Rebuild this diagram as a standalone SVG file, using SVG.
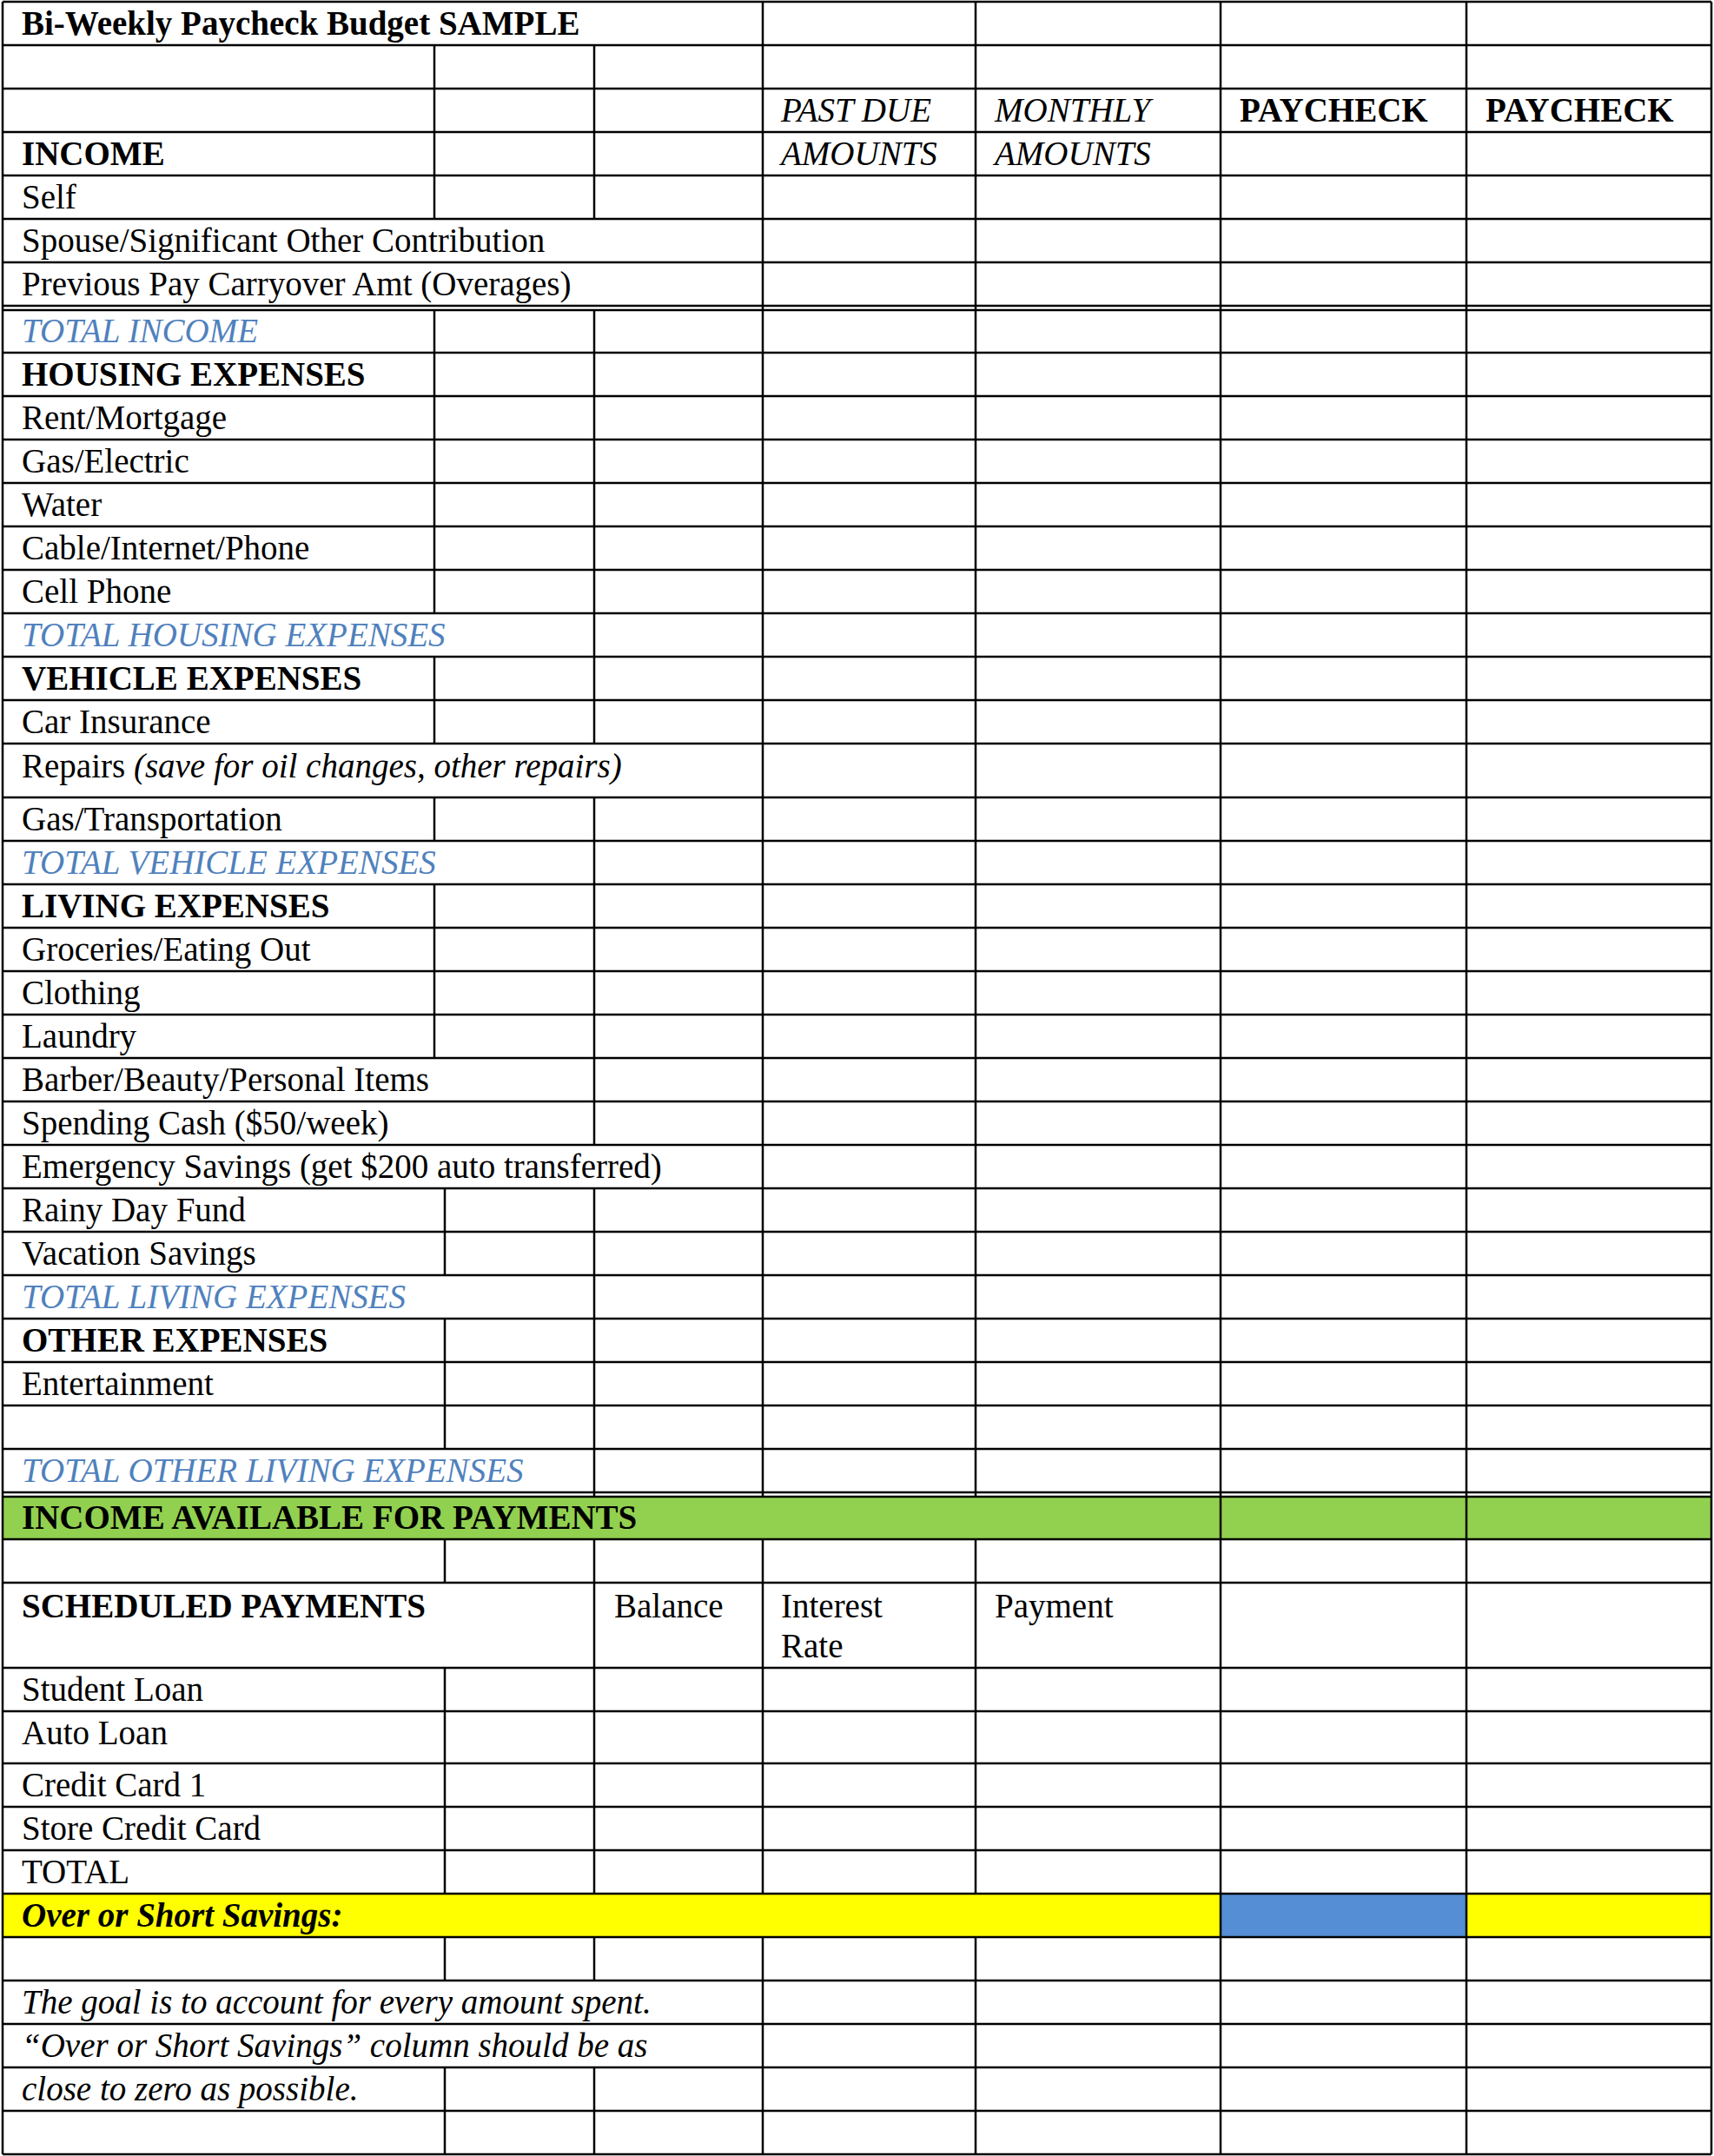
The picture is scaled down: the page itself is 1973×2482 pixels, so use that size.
<svg xmlns="http://www.w3.org/2000/svg" width="1973" height="2482" viewBox="0 0 1973 2482">
<style>
text{font-family:"Liberation Serif","Times New Roman",serif;font-size:39px;fill:#000}
.b{font-weight:bold}.i{font-style:italic}.t{font-style:italic;fill:#4f81bd}
line{stroke:#000;stroke-width:2.5}
</style>
<rect width="1973" height="2482" fill="#fff"/>
<g id="fills">
<rect x="3" y="1722" width="1967" height="50" fill="#92d050"/>
<rect x="3" y="2180" width="1967" height="50" fill="#ffff00"/>
<rect x="1405" y="2180" width="283" height="50" fill="#558ed5"/>
</g>
<g id="connectors">
<g id="h">
<line x1="3" x2="1970" y1="2" y2="2"/><line x1="3" x2="1970" y1="52" y2="52"/><line x1="3" x2="1970" y1="102" y2="102"/><line x1="3" x2="1970" y1="152" y2="152"/><line x1="3" x2="1970" y1="202" y2="202"/><line x1="3" x2="1970" y1="252" y2="252"/><line x1="3" x2="1970" y1="302" y2="302"/><line x1="3" x2="1970" y1="352" y2="352"/><line x1="3" x2="1970" y1="357" y2="357"/>
<line x1="3" x2="1970" y1="406" y2="406"/><line x1="3" x2="1970" y1="456" y2="456"/><line x1="3" x2="1970" y1="506" y2="506"/><line x1="3" x2="1970" y1="556" y2="556"/><line x1="3" x2="1970" y1="606" y2="606"/><line x1="3" x2="1970" y1="656" y2="656"/><line x1="3" x2="1970" y1="706" y2="706"/><line x1="3" x2="1970" y1="756" y2="756"/><line x1="3" x2="1970" y1="806" y2="806"/><line x1="3" x2="1970" y1="856" y2="856"/>
<line x1="3" x2="1970" y1="918" y2="918"/><line x1="3" x2="1970" y1="968" y2="968"/><line x1="3" x2="1970" y1="1018" y2="1018"/><line x1="3" x2="1970" y1="1068" y2="1068"/><line x1="3" x2="1970" y1="1118" y2="1118"/><line x1="3" x2="1970" y1="1168" y2="1168"/><line x1="3" x2="1970" y1="1218" y2="1218"/><line x1="3" x2="1970" y1="1268" y2="1268"/><line x1="3" x2="1970" y1="1318" y2="1318"/><line x1="3" x2="1970" y1="1368" y2="1368"/><line x1="3" x2="1970" y1="1418" y2="1418"/><line x1="3" x2="1970" y1="1468" y2="1468"/><line x1="3" x2="1970" y1="1518" y2="1518"/><line x1="3" x2="1970" y1="1568" y2="1568"/><line x1="3" x2="1970" y1="1618" y2="1618"/><line x1="3" x2="1970" y1="1668" y2="1668"/><line x1="3" x2="1970" y1="1718" y2="1718"/><line x1="3" x2="1970" y1="1723" y2="1723"/>
<line x1="3" x2="1970" y1="1772" y2="1772"/><line x1="3" x2="1970" y1="1822" y2="1822"/><line x1="3" x2="1970" y1="1920" y2="1920"/><line x1="3" x2="1970" y1="1970" y2="1970"/><line x1="3" x2="1970" y1="2030" y2="2030"/><line x1="3" x2="1970" y1="2080" y2="2080"/><line x1="3" x2="1970" y1="2130" y2="2130"/><line x1="3" x2="1970" y1="2180" y2="2180"/><line x1="3" x2="1970" y1="2230" y2="2230"/><line x1="3" x2="1970" y1="2280" y2="2280"/><line x1="3" x2="1970" y1="2330" y2="2330"/><line x1="3" x2="1970" y1="2380" y2="2380"/><line x1="3" x2="1970" y1="2430" y2="2430"/><line x1="3" x2="1970" y1="2480" y2="2480"/>
</g>
<g id="v">
<line x1="3" x2="3" y1="2" y2="2480"/><line x1="1970" x2="1970" y1="2" y2="2480"/>
<line x1="1688" x2="1688" y1="2" y2="2480"/><line x1="1405" x2="1405" y1="2" y2="2480"/>
<line x1="1123" x2="1123" y1="2" y2="1722"/><line x1="1123" x2="1123" y1="1772" y2="2180"/><line x1="1123" x2="1123" y1="2230" y2="2480"/>
<line x1="878" x2="878" y1="2" y2="1722"/><line x1="878" x2="878" y1="1772" y2="2180"/><line x1="878" x2="878" y1="2230" y2="2480"/>
<line x1="684" x2="684" y1="52" y2="252"/><line x1="684" x2="684" y1="356" y2="856"/><line x1="684" x2="684" y1="918" y2="1318"/><line x1="684" x2="684" y1="1368" y2="1722"/><line x1="684" x2="684" y1="1772" y2="2180"/><line x1="684" x2="684" y1="2230" y2="2280"/><line x1="684" x2="684" y1="2380" y2="2480"/>
<line x1="500" x2="500" y1="52" y2="252"/><line x1="500" x2="500" y1="356" y2="706"/><line x1="500" x2="500" y1="756" y2="856"/><line x1="500" x2="500" y1="918" y2="968"/><line x1="500" x2="500" y1="1018" y2="1218"/>
<line x1="512" x2="512" y1="1368" y2="1468"/><line x1="512" x2="512" y1="1518" y2="1668"/><line x1="512" x2="512" y1="1772" y2="1822"/><line x1="512" x2="512" y1="1920" y2="2180"/><line x1="512" x2="512" y1="2230" y2="2280"/><line x1="512" x2="512" y1="2380" y2="2480"/>
</g>
</g>
<g id="title"><text class="b" x="25" y="40">Bi-Weekly Paycheck Budget SAMPLE</text></g>
<g id="headers">
<text class="i" x="899" y="140">PAST DUE</text><text class="i" x="899" y="190">AMOUNTS</text>
<text class="i" x="1145" y="140">MONTHLY</text><text class="i" x="1145" y="190">AMOUNTS</text>
<text class="b" x="1427" y="140">PAYCHECK</text><text class="b" x="1710" y="140">PAYCHECK</text>
</g>
<g id="income">
<text class="b" x="25" y="190">INCOME</text>
<text x="25" y="240">Self</text>
<text x="25" y="290">Spouse/Significant Other Contribution</text>
<text x="25" y="340">Previous Pay Carryover Amt (Overages)</text>
<text class="t" x="25" y="394">TOTAL INCOME</text>
</g>
<g id="housing">
<text class="b" x="25" y="444">HOUSING EXPENSES</text>
<text x="25" y="494">Rent/Mortgage</text>
<text x="25" y="544">Gas/Electric</text>
<text x="25" y="594">Water</text>
<text x="25" y="644">Cable/Internet/Phone</text>
<text x="25" y="694">Cell Phone</text>
<text class="t" x="25" y="744">TOTAL HOUSING EXPENSES</text>
</g>
<g id="vehicle">
<text class="b" x="25" y="794">VEHICLE EXPENSES</text>
<text x="25" y="844">Car Insurance</text>
<text x="25" y="895">Repairs <tspan class="i">(save for oil changes, other repairs)</tspan></text>
<text x="25" y="956">Gas/Transportation</text>
<text class="t" x="25" y="1006">TOTAL VEHICLE EXPENSES</text>
</g>
<g id="living">
<text class="b" x="25" y="1056">LIVING EXPENSES</text>
<text x="25" y="1106">Groceries/Eating Out</text>
<text x="25" y="1156">Clothing</text>
<text x="25" y="1206">Laundry</text>
<text x="25" y="1256">Barber/Beauty/Personal Items</text>
<text x="25" y="1306">Spending Cash ($50/week)</text>
<text x="25" y="1356">Emergency Savings (get $200 auto transferred)</text>
<text x="25" y="1406">Rainy Day Fund</text>
<text x="25" y="1456">Vacation Savings</text>
<text class="t" x="25" y="1506">TOTAL LIVING EXPENSES</text>
</g>
<g id="other">
<text class="b" x="25" y="1556">OTHER EXPENSES</text>
<text x="25" y="1606">Entertainment</text>
<text class="t" x="25" y="1706">TOTAL OTHER LIVING EXPENSES</text>
</g>
<g id="available"><text class="b" x="25" y="1760">INCOME AVAILABLE FOR PAYMENTS</text></g>
<g id="payments">
<text class="b" x="25" y="1862">SCHEDULED PAYMENTS</text>
<text x="707" y="1862">Balance</text>
<text x="899" y="1862">Interest</text><text x="899" y="1908">Rate</text>
<text x="1145" y="1862">Payment</text>
<text x="25" y="1958">Student Loan</text>
<text x="25" y="2008">Auto Loan</text>
<text x="25" y="2068">Credit Card 1</text>
<text x="25" y="2118">Store Credit Card</text>
<text x="25" y="2168">TOTAL</text>
</g>
<g id="savings"><text class="b i" x="25" y="2218">Over or Short Savings:</text></g>
<g id="note">
<text class="i" x="25" y="2318">The goal is to account for every amount spent.</text>
<text class="i" x="25" y="2368">“Over or Short Savings” column should be as</text>
<text class="i" x="25" y="2418">close to zero as possible.</text>
</g>
</svg>
